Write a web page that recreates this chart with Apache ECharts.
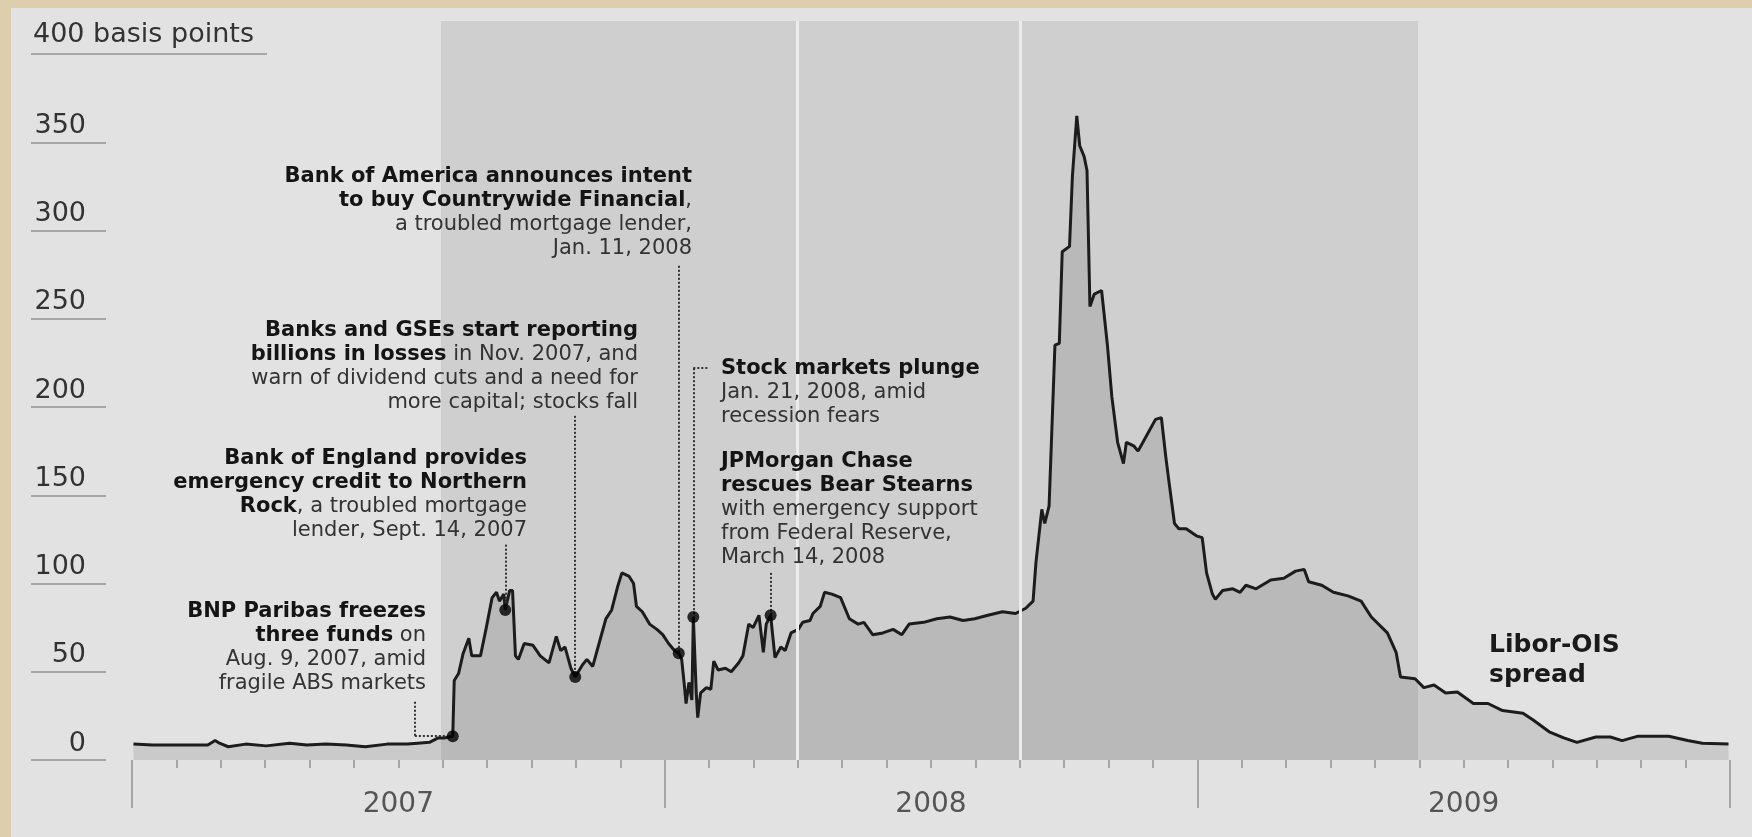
<!DOCTYPE html>
<html><head><meta charset="utf-8">
<script src="https://cdn.jsdelivr.net/npm/echarts@6/dist/echarts.min.js"></script>
<style>html,body{margin:0;padding:0;background:#e2e2e2;}#c{width:1752px;height:837px;}</style>
</head><body><div id="c"></div>
<script>
// ---------- DATA ----------
const dates = [
'2007-01-02','2007-01-15','2007-01-29','2007-02-12','2007-02-22','2007-02-27','2007-03-02','2007-03-08','2007-03-20','2007-04-03',
'2007-04-19','2007-05-01','2007-05-14','2007-05-28','2007-06-10','2007-06-25','2007-07-09','2007-07-16','2007-07-24','2007-07-30',
'2007-08-03','2007-08-09','2007-08-10','2007-08-13','2007-08-16','2007-08-20','2007-08-22','2007-08-28','2007-09-01','2007-09-05',
'2007-09-08','2007-09-10','2007-09-13','2007-09-14','2007-09-17','2007-09-19','2007-09-21','2007-09-23','2007-09-27','2007-10-03',
'2007-10-08','2007-10-14','2007-10-19','2007-10-22','2007-10-25','2007-10-29','2007-11-01','2007-11-06','2007-11-09','2007-11-13',
'2007-11-18','2007-11-22','2007-11-26','2007-11-30','2007-12-03','2007-12-08','2007-12-11','2007-12-13','2007-12-17','2007-12-22',
'2007-12-27','2007-12-31','2008-01-04','2008-01-08','2008-01-11','2008-01-13','2008-01-15','2008-01-16','2008-01-18','2008-01-20',
'2008-01-21','2008-01-22','2008-01-23','2008-01-24','2008-01-26','2008-01-30','2008-02-02','2008-02-04','2008-02-07','2008-02-12',
'2008-02-16','2008-02-21','2008-02-24','2008-02-28','2008-03-02','2008-03-06','2008-03-09','2008-03-11','2008-03-14','2008-03-17',
'2008-03-21','2008-03-24','2008-03-28','2008-04-02','2008-04-05','2008-04-10','2008-04-12','2008-04-17','2008-04-20','2008-04-25',
'2008-05-01','2008-05-07','2008-05-13','2008-05-17','2008-05-23','2008-05-30','2008-06-06','2008-06-12','2008-06-17','2008-06-27',
'2008-07-06','2008-07-15','2008-07-24','2008-08-01','2008-08-10','2008-08-20','2008-08-29','2008-09-05','2008-09-10','2008-09-12',
'2008-09-16','2008-09-18','2008-09-21','2008-09-25','2008-09-28','2008-09-30','2008-10-05','2008-10-07','2008-10-10','2008-10-12',
'2008-10-15','2008-10-17','2008-10-19','2008-10-22','2008-10-27','2008-10-31','2008-11-03','2008-11-07','2008-11-11','2008-11-13',
'2008-11-18','2008-11-21','2008-11-27','2008-12-03','2008-12-07','2008-12-10','2008-12-12','2008-12-16','2008-12-19','2008-12-24',
'2008-12-31','2009-01-04','2009-01-07','2009-01-11','2009-01-13','2009-01-18','2009-01-25','2009-01-30','2009-02-03','2009-02-10',
'2009-02-20','2009-03-01','2009-03-09','2009-03-15','2009-03-18','2009-03-27','2009-04-04','2009-04-14','2009-04-23','2009-04-30',
'2009-05-11','2009-05-17','2009-05-20','2009-05-30','2009-06-05','2009-06-12','2009-06-20','2009-06-28','2009-07-09','2009-07-19',
'2009-07-29','2009-08-12','2009-08-19','2009-08-30','2009-09-09','2009-09-18','2009-10-01','2009-10-11','2009-10-19','2009-10-30',
'2009-11-20','2009-12-03','2009-12-13','2009-12-31'
];
const values = [
9,8.5,8.5,8.5,8.5,11,9.5,7.5,9,8,
9.5,8.5,9,8.5,7.5,9,9,9.5,10,12.5,
12.5,13.5,45,49,60,69,59,59,75,92,
95,90,94,85,96,96,59,57,66,65,
59,55,70,62,64,52,47,54,57,53,
68,80,85,98,106,104,100,87,84,77,
74,71,66,62,60.5,57,41,32,44,34,
81,80,38,24,38,41,40,56,51,52,
50,55,59,77,75,82,61,77,82,58,
64,62,72,74,78,79,83,87,95,94,
92,80,77,78,71,72,74,71,77,78,
80,81,79,80,82,84,83,86,90,112,
142,134,144,235,236,288,291,331,365,348,
342,334,257,264,266,235,206,180,168,180,
178,175,184,193,194,172,159,134,131,131,
127,126,106,94,91,96,97,95,99,97,
102,103,107,108,101,99,95,93,90,81,
72,61,47,46,41,42.5,38,38.5,32,32,
28,26.5,22.7,16,12.5,10,13,13,11,13.5,
13.5,11,9.5,9
];
const yTicks = [0, 50, 100, 150, 200, 250, 300, 350, 400];
const yUnitLabel = '400 basis points';
const years = ['2007', '2008', '2009'];
const months = [];
years.forEach(y => ['Jan','Feb','Mar','Apr','May','Jun','Jul','Aug','Sep','Oct','Nov','Dec'].forEach(m => months.push(m + ' ' + y)));
const xStart = '2007-01-01', xEnd = '2010-01-01';
const bandRanges = [['2007-08-01', '2009-06-01']];
const dividers = ['2008-04-01', '2008-09-01'];
const eventDates = ['2007-08-09', '2007-09-14', '2007-11-01', '2008-01-11', '2008-01-21', '2008-03-14'];
const eventValues = [13.5, 85, 47, 60.5, 81, 82];
const leaders = [
  [['2007-07-14', 33], ['2007-07-14', 13.5]],
  [['2007-07-14', 13.5], ['2007-08-09', 13.5]],
  [['2007-09-14', 122], ['2007-09-14', 85]],
  [['2007-11-01', 195], ['2007-11-01', 47]],
  [['2008-01-11', 280], ['2008-01-11', 60.5]],
  [['2008-01-21', 222], ['2008-01-21', 81]],
  [['2008-01-21', 222], ['2008-02-01', 222]],
  [['2008-03-14', 106], ['2008-03-14', 82]]
];

// ---------- CHART ----------
const FONT = 'DejaVu Sans';
const B = {fontFamily: FONT, fontSize: 21, fontWeight: 'bold', fill: '#141414', lineHeight: 24};
const R = {fontFamily: FONT, fontSize: 21, fontWeight: 'normal', fill: '#333', lineHeight: 24};
function ann(x, y, align, text) {
  return {
    type: 'text', z: 50,
    style: {
      x: x, y: y, text: text, align: align, verticalAlign: 'top',
      fontFamily: FONT, fontSize: 21, lineHeight: 24, fill: '#333',
      rich: {b: Object.assign({align: align}, B), r: Object.assign({align: align}, R)}
    }
  };
}
const chart = echarts.init(document.getElementById('c'), null, {renderer: 'canvas'});
const tickColor = '#a6a6a6';
chart.setOption({
  animation: false,
  backgroundColor: '#e2e2e2',
  grid: [
    {left: 132, right: 22, top: 54, bottom: 77},
    {left: 132, right: 22, top: 21, bottom: 77}
  ],
  xAxis: [
    {gridIndex: 0, type: 'time', min: xStart, max: xEnd, show: false},
    {gridIndex: 0, type: 'category', data: months, position: 'bottom', boundaryGap: true,
     axisLine: {show: false}, axisLabel: {show: false},
     axisTick: {show: true, interval: 0, length: 8, lineStyle: {color: tickColor, width: 2}}},
    {gridIndex: 0, type: 'category', data: years, position: 'bottom', boundaryGap: true,
     axisLine: {show: false},
     axisTick: {show: true, interval: 0, length: 48, lineStyle: {color: tickColor, width: 2}},
     axisLabel: {interval: 0, margin: 31, fontFamily: FONT, fontSize: 28, color: '#555'}},
    {gridIndex: 1, type: 'time', min: xStart, max: xEnd, show: false}
  ],
  yAxis: [
    {gridIndex: 0, type: 'value', min: 0, max: 400, show: false},
    {gridIndex: 0, type: 'value', min: yTicks[0], max: yTicks[yTicks.length - 1], interval: 50,
     position: 'left', offset: 26, splitLine: {show: false}, axisLine: {show: false},
     axisTick: {show: true, length: 75, lineStyle: {color: tickColor, width: 2}},
     axisLabel: {margin: 20, fontFamily: FONT, fontSize: 27, color: '#333', verticalAlign: 'bottom',
       padding: [0, 0, 3, 0], formatter: v => (v === 400 ? '' : String(v))}},
    {gridIndex: 1, type: 'value', min: 0, max: 1, show: false}
  ],
  series: [
    {type: 'line', xAxisIndex: 3, yAxisIndex: 2, data: [[xStart, 0], [xEnd, 0]], symbol: 'none',
     lineStyle: {opacity: 0}, silent: true, z: 1,
     markArea: {silent: true, itemStyle: {color: '#cfcfcf'},
       data: bandRanges.map(r => [{xAxis: r[0]}, {xAxis: r[1]}])},
     markLine: {silent: true, symbol: ['none', 'none'], label: {show: false},
       lineStyle: {color: '#ececec', width: 3, type: 'solid'},
       data: dividers.map(d => ({xAxis: d}))}},
    {type: 'line', xAxisIndex: 0, yAxisIndex: 0, z: 3, symbol: 'none', silent: true,
     data: dates.map((d, i) => [d, values[i]]),
     lineStyle: {color: '#1c1c1c', width: 3},
     areaStyle: {color: 'rgba(0,0,0,0.15)'}},
    {type: 'scatter', xAxisIndex: 0, yAxisIndex: 0, z: 6, symbolSize: 12, silent: true,
     itemStyle: {color: '#000'},
     data: eventDates.map((d, i) => [d, eventValues[i]]),
     markLine: {silent: true, symbol: ['none', 'none'], label: {show: false}, z: 5,
       lineStyle: {color: '#333', width: 2, type: [2, 2]},
       data: leaders.map(s => [{coord: s[0]}, {coord: s[1]}])}}
  ],
  graphic: [
    {type: 'rect', z: 100, shape: {x: 0, y: 0, width: 1752, height: 8}, style: {fill: '#ddceae'}},
    {type: 'rect', z: 100, shape: {x: 0, y: 0, width: 11, height: 837}, style: {fill: '#ddceae'}},
    {type: 'text', z: 50, style: {x: 33, y: 35, text: yUnitLabel, verticalAlign: 'middle', align: 'left',
      fontFamily: FONT, fontSize: 27, fill: '#333'}},
    {type: 'line', z: 50, shape: {x1: 31, y1: 54, x2: 267, y2: 54}, style: {stroke: tickColor, lineWidth: 2}},
    ann(692, 165, 'right', '{b|Bank of America announces intent}\n{b|to buy Countrywide Financial}{r|,}\n{r|a troubled mortgage lender,}\n{r|Jan. 11, 2008}'),
    ann(638, 319, 'right', '{b|Banks and GSEs start reporting}\n{b|billions in losses}{r| in Nov. 2007, and}\n{r|warn of dividend cuts and a need for}\n{r|more capital; stocks fall}'),
    ann(527, 447, 'right', '{b|Bank of England provides}\n{b|emergency credit to Northern}\n{b|Rock}{r|, a troubled mortgage}\n{r|lender, Sept. 14, 2007}'),
    ann(426, 600, 'right', '{b|BNP Paribas freezes}\n{b|three funds}{r| on}\n{r|Aug. 9, 2007, amid}\n{r|fragile ABS markets}'),
    ann(721, 357, 'left', '{b|Stock markets plunge}\n{r|Jan. 21, 2008, amid}\n{r|recession fears}'),
    ann(721, 450, 'left', '{b|JPMorgan Chase}\n{b|rescues Bear Stearns}\n{r|with emergency support}\n{r|from Federal Reserve,}\n{r|March 14, 2008}'),
    {type: 'text', z: 50, style: {x: 1489, y: 630, text: 'Libor-OIS\nspread', align: 'left', verticalAlign: 'top',
      fontFamily: FONT, fontSize: 25, fontWeight: 'bold', lineHeight: 30, fill: '#1a1a1a'}}
  ]
});
</script></body></html>
